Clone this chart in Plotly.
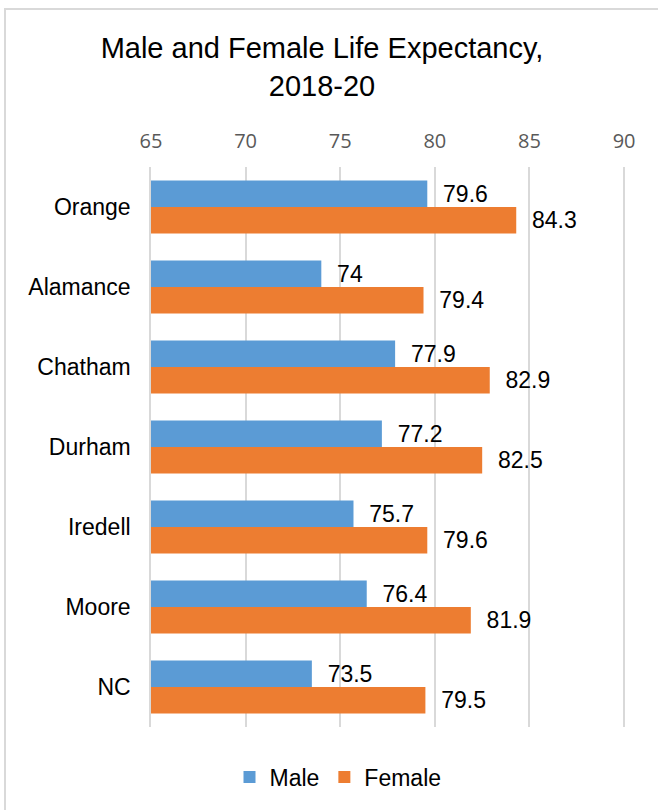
import plotly.graph_objects as go

counties = ["Orange", "Alamance", "Chatham", "Durham", "Iredell", "Moore", "NC"]
male = [79.6, 74, 77.9, 77.2, 75.7, 76.4, 73.5]
female = [84.3, 79.4, 82.9, 82.5, 79.6, 81.9, 79.5]
x_ticks = [65, 70, 75, 80, 85, 90]

BLUE = "#5B9BD5"
ORANGE = "#ED7D31"
GRID = "#D9D9D9"
LABEL_FONT = dict(family="Liberation Sans, Arial", size=23, color="#000000")

fig = go.Figure()
for name, vals, col in [("Male", male, BLUE), ("Female", female, ORANGE)]:
    fig.add_trace(go.Bar(
        name=name, y=counties, x=vals, orientation="h",
        marker=dict(color=col, line=dict(width=0)),
        text=[f"{v:g}" for v in vals],
        texttemplate="\u00a0\u00a0%{text}",
        textposition="outside", constraintext="none", cliponaxis=False,
        textfont=LABEL_FONT,
    ))

W, H = 658, 810
L, R, T, B = 151, 32, 167, 83
pw, ph = W - L - R, H - T - B

def px(x):
    return (x - L) / pw

def py(y):
    return (H - B - y) / ph

fig.update_layout(
    width=W, height=H,
    margin=dict(l=L, r=R, t=T, b=B),
    paper_bgcolor="white", plot_bgcolor="white",
    barmode="group", bargap=0.34, bargroupgap=0,
    title=dict(text="Male and Female Life Expectancy,<br>2018-20",
               x=322 / W, xanchor="center", xref="container",
               y=1 - 58 / H, yanchor="top", yref="container",
               font=dict(family="Liberation Sans, Arial", size=29, color="#000000")),
    xaxis=dict(side="top", range=[65, 90.1], tickvals=x_ticks,
               showgrid=True, gridcolor=GRID, gridwidth=1.5,
               zeroline=False, showline=False, ticks="",
               ticklabelstandoff=14,
               tickfont=dict(family="Open Sans", size=20, color="#595959")),
    yaxis=dict(autorange="reversed", showgrid=False, zeroline=False,
               showline=True, linecolor=GRID, linewidth=1.5,
               ticks="", ticklabelstandoff=14,
               tickfont=LABEL_FONT),
    legend=dict(orientation="h", x=px(338), xanchor="center",
                y=py(777), yanchor="middle",
                font=LABEL_FONT, traceorder="normal"),
    showlegend=True,
)

fig.add_shape(type="rect", xref="paper", yref="paper",
              x0=px(5), x1=px(720), y0=py(880), y1=py(9),
              line=dict(color=GRID, width=2), fillcolor="rgba(0,0,0,0)",
              layer="below")

fig.write_html("out.html")
